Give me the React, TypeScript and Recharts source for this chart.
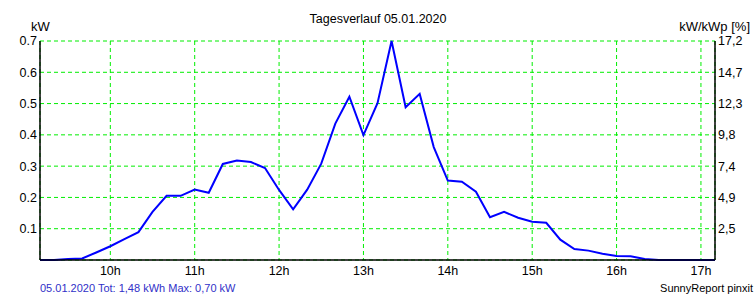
import { LineChart, Line, XAxis, YAxis, CartesianGrid } from "recharts";

// 10-minute readings, 05.01.2020
const times = [
  "09:10", "09:20", "09:30", "09:40", "09:50",
  "10:00", "10:10", "10:20", "10:30", "10:40", "10:50",
  "11:00", "11:10", "11:20", "11:30", "11:40", "11:50",
  "12:00", "12:10", "12:20", "12:30", "12:40", "12:50",
  "13:00", "13:10", "13:20", "13:30", "13:40", "13:50",
  "14:00", "14:10", "14:20", "14:30", "14:40", "14:50",
  "15:00", "15:10", "15:20", "15:30", "15:40", "15:50",
  "16:00", "16:10", "16:20", "16:30", "16:40", "16:50",
  "17:00", "17:10",
];

const power = [
  0, 0, 0.003, 0.005, 0.024,
  0.044, 0.067, 0.089, 0.154, 0.205, 0.205,
  0.225, 0.215, 0.307, 0.318, 0.313, 0.294,
  0.224, 0.162, 0.225, 0.308, 0.436, 0.522,
  0.399, 0.501, 0.7, 0.488, 0.531, 0.361,
  0.254, 0.25, 0.218, 0.137, 0.154, 0.135,
  0.122, 0.119, 0.065, 0.035, 0.03, 0.02,
  0.013, 0.012, 0.003, 0, 0, 0,
  0, 0,
];

const hourTicks = [10, 11, 12, 13, 14, 15, 16, 17];
const kwTicks = [0.1, 0.2, 0.3, 0.4, 0.5, 0.6, 0.7];
const pctLabels = ["2,5", "4,9", "7,4", "9,8", "12,3", "14,7", "17,2"];

const toHours = (s: string) => {
  const [h, m] = s.split(":").map(Number);
  return h + m / 60;
};

const data = times.map((t, i) => ({ t: toHours(t), kw: power[i] }));

const font = "'Liberation Sans', Arial, sans-serif";
const tickStyle = { fontSize: 12.5, fill: "#000", fontFamily: font };

export default function App() {
  return (
    <div
      style={{
        position: "absolute",
        left: 0,
        top: 0,
        width: 756,
        height: 300,
        background: "#fff",
        fontFamily: font,
      }}
    >
      <LineChart
        width={756}
        height={300}
        data={data}
        margin={{ top: 41, right: 0, bottom: 0, left: 0 }}
      >
        <CartesianGrid stroke="#00ee00" strokeDasharray="4 3" />
        <XAxis
          dataKey="t"
          type="number"
          domain={[9 + 10 / 60, 17 + 10 / 60]}
          ticks={hourTicks}
          tickFormatter={(v: number) => `${v}h`}
          allowDataOverflow
          height={40}
          tickLine={false}
          tickSize={4}
          tickMargin={2}
          axisLine={{ stroke: "#000", strokeWidth: 1.5 }}
          tick={tickStyle}
        />
        <XAxis
          xAxisId="top"
          dataKey="t"
          type="number"
          orientation="top"
          domain={[9 + 10 / 60, 17 + 10 / 60]}
          allowDataOverflow
          height={0}
          tick={false}
          tickLine={false}
          axisLine={{ stroke: "#000", strokeWidth: 1.5 }}
        />
        <YAxis
          domain={[0, 0.7]}
          ticks={kwTicks}
          tickFormatter={(v: number) => v.toFixed(1)}
          width={40}
          tickLine={false}
          tickSize={3}
          tickMargin={0}
          axisLine={{ stroke: "#000", strokeWidth: 1.5 }}
          tick={tickStyle}
        />
        <YAxis
          yAxisId="right"
          orientation="right"
          domain={[0, 0.7]}
          ticks={kwTicks}
          tickFormatter={(v: number) => pctLabels[kwTicks.indexOf(v)] ?? ""}
          width={41}
          tickLine={false}
          tickSize={3}
          tickMargin={0}
          axisLine={{ stroke: "#000", strokeWidth: 1.5 }}
          tick={tickStyle}
        />
        <Line
          xAxisId="top"
          yAxisId="right"
          dataKey="kw"
          stroke="none"
          dot={false}
          activeDot={false}
          isAnimationActive={false}
        />
        <Line
          type="linear"
          dataKey="kw"
          stroke="#0000ff"
          strokeWidth={2}
          dot={false}
          isAnimationActive={false}
        />
      </LineChart>

      <div style={{ position: "absolute", left: 0, width: 756, top: 12, textAlign: "center", fontSize: 12.5 }}>
        Tagesverlauf 05.01.2020
      </div>
      <div style={{ position: "absolute", left: 31, top: 19, fontSize: 13 }}>kW</div>
      <div style={{ position: "absolute", right: 6, top: 19, fontSize: 13 }}>kW/kWp [%]</div>
      <div style={{ position: "absolute", left: 40, top: 282, fontSize: 11, color: "#3030c8" }}>
        05.01.2020 Tot: 1,48 kWh Max: 0,70 kW
      </div>
      <div style={{ position: "absolute", right: 3, top: 282, fontSize: 11, color: "#000" }}>
        SunnyReport pinxit
      </div>
    </div>
  );
}
